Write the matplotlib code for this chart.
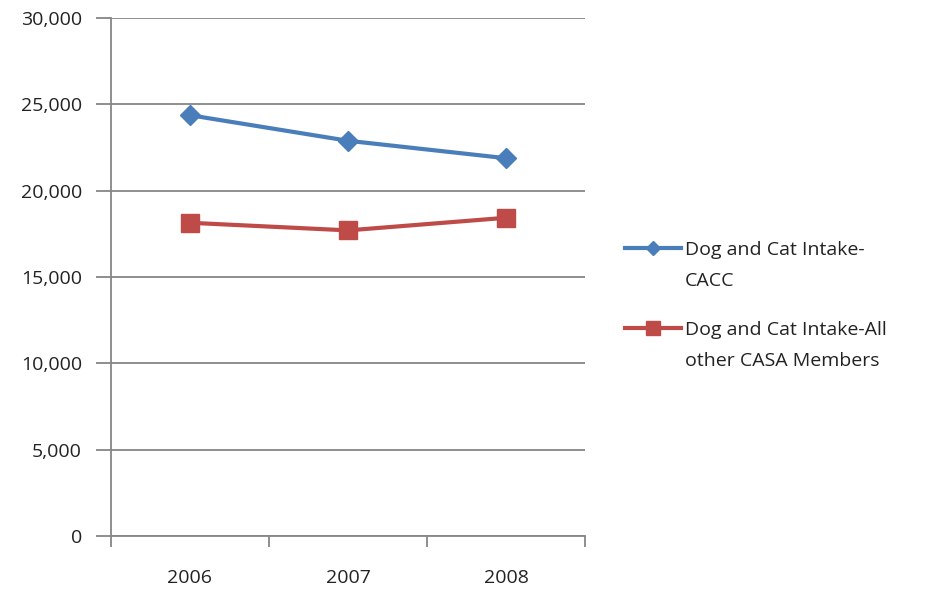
import matplotlib
matplotlib.use("Agg")
import matplotlib.pyplot as plt
from matplotlib.lines import Line2D
from matplotlib.ticker import FuncFormatter

plt.rcParams['font.family'] = ['Open Sans', 'DejaVu Sans']

years = ["2006", "2007", "2008"]
cacc = [24370, 22890, 21880]
others = [18140, 17700, 18430]
labels = ["Dog and Cat Intake-\nCACC", "Dog and Cat Intake-All\nother CASA Members"]

blue = "#4a7ebb"
red = "#be4b48"
grid = "#868686"
text_col = "#222222"

W, H = 928, 593
fig = plt.figure(figsize=(W / 100, H / 100), dpi=100)
ax = fig.add_axes([111/W, 1 - 536/H, (585 - 111)/W, (536 - 18)/H])

x = list(range(len(years)))
ax.plot(x, cacc, color=blue, lw=3, marker="D", ms=10.5, zorder=3)
ax.plot(x, others, color=red, lw=3, marker="s", ms=13, zorder=3)

ax.set_xlim(-0.5, len(years) - 0.5)
ax.set_ylim(0, 30000)
ax.set_yticks(range(0, 30001, 5000))
ax.yaxis.set_major_formatter(FuncFormatter(lambda v, p: f"{int(v):,}"))
ax.yaxis.grid(True, color=grid, lw=1.3)
ax.set_axisbelow(True)

ax.set_xticks(x)
ax.set_xticklabels(years)
ax.set_xticks([i - 0.5 for i in range(len(years) + 1)], minor=True)
ax.tick_params(axis="x", which="major", length=0, pad=24, labelsize=14, labelcolor=text_col)
ax.tick_params(axis="x", which="minor", length=8, width=1.3, color=grid, direction="out")
ax.tick_params(axis="y", length=11, width=1.3, color=grid, direction="out", pad=10,
               labelsize=14, labelcolor=text_col)

for s in ["top", "right"]:
    ax.spines[s].set_visible(False)
for s in ["left", "bottom"]:
    ax.spines[s].set_color(grid)
    ax.spines[s].set_linewidth(1.3)

# legend drawn by hand so the key sits on the first text line, as in the original
for (ly, lab, col, mk, ms) in [(248, labels[0], blue, "D", 7.5), (328, labels[1], red, "s", 10)]:
    yf = 1 - ly / H
    fig.add_artist(Line2D([625/W, 681/W], [yf, yf], color=col, lw=3, transform=fig.transFigure))
    fig.add_artist(Line2D([653/W], [yf], color=col, marker=mk, ms=ms, transform=fig.transFigure))
    fig.text(685/W, 1 - (ly - 7) / H, lab, ha="left", va="top", fontsize=14,
             color=text_col, linespacing=1.95)

fig.savefig("out.png", dpi=100)
